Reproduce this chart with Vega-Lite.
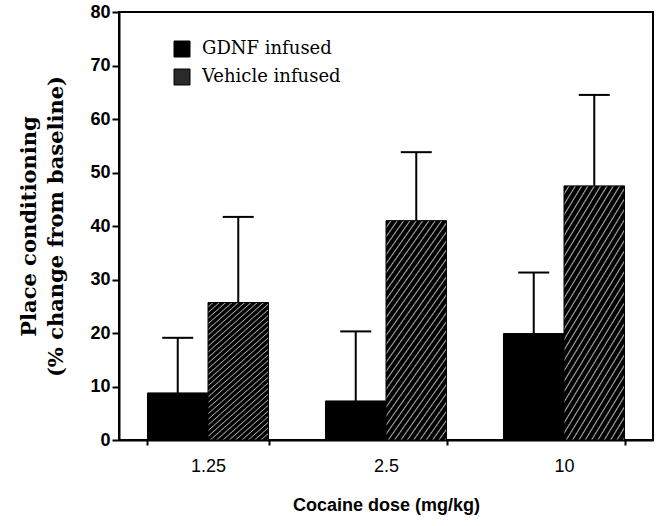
{
  "$schema": "https://vega.github.io/schema/vega-lite/v6.json",
  "width": 534,
  "height": 428,
  "autosize": {"type": "none"},
  "padding": {"left": 119, "top": 12, "right": 11, "bottom": 86},
  "background": "white",
  "data": {
    "values": [
      {"dose": "1.25", "group": "GDNF infused", "value": 8.8, "upper": 19.1},
      {"dose": "1.25", "group": "Vehicle infused", "value": 25.7, "upper": 41.7},
      {"dose": "2.5", "group": "GDNF infused", "value": 7.3, "upper": 20.3},
      {"dose": "2.5", "group": "Vehicle infused", "value": 41.0, "upper": 53.8},
      {"dose": "10", "group": "GDNF infused", "value": 19.9, "upper": 31.3},
      {"dose": "10", "group": "Vehicle infused", "value": 47.5, "upper": 64.5}
    ]
  },
  "encoding": {
    "x": {
      "field": "dose", "type": "ordinal", "sort": ["1.25", "2.5", "10"],
      "scale": {"paddingInner": 0.32, "paddingOuter": 0.16},
      "axis": {
        "title": "Cocaine dose (mg/kg)",
        "labelAngle": 0,
        "labelFont": "Liberation Sans", "labelFontSize": 18, "labelFontWeight": "normal",
        "labelPadding": 12,
        "titleFont": "Liberation Sans", "titleFontSize": 18, "titleFontWeight": "bold",
        "titlePadding": 21,
        "tickBand": "extent", "tickSize": 5, "tickWidth": 2, "tickColor": "black",
        "domainColor": "black", "domainWidth": 2, "labelColor": "black", "titleColor": "black"
      }
    },
    "xOffset": {"field": "group", "type": "nominal", "sort": ["GDNF infused", "Vehicle infused"], "scale": {"paddingInner": 0, "paddingOuter": 0}}
  },
  "layer": [
    {
      "mark": {"type": "bar", "stroke": "black", "strokeWidth": 1},
      "encoding": {
        "y": {
          "field": "value", "type": "quantitative",
          "scale": {"domain": [0, 80], "nice": false},
          "axis": {
            "title": ["Place conditioning", "(% change from baseline)"],
            "values": [0, 5, 10, 15, 20, 25, 30, 35, 40, 45, 50, 55, 60, 65, 70, 75, 80],
            "labelExpr": "datum.value % 10 === 0 ? datum.label : ''",
            "tickSize": {"condition": {"test": "datum.value % 10 === 0", "value": 7}, "value": 4},
            "tickWidth": 2, "tickColor": "black",
            "labelFont": "Liberation Sans", "labelFontSize": 18, "labelFontWeight": "bold",
            "labelPadding": 2, "labelColor": "black",
            "titleFont": "DejaVu Serif", "titleFontSize": 21, "titleFontWeight": "bold",
            "titleLineHeight": 27, "titlePadding": 23, "titleColor": "black",
            "domainColor": "black", "domainWidth": 2, "grid": false
          }
        },
        "fill": {
          "condition": {
            "test": "datum.group === 'Vehicle infused'",
            "value": {
              "gradient": "linear", "x1": 0, "y1": 0, "x2": 0.4717, "y2": 1.2065,
              "stops": [
                {"offset": 0, "color": "#000"}, {"offset": 0.0176, "color": "#000"}, {"offset": 0.0235, "color": "#aaa"},
                {"offset": 0.0294, "color": "#000"}, {"offset": 0.0471, "color": "#000"}, {"offset": 0.0529, "color": "#aaa"},
                {"offset": 0.0588, "color": "#000"}, {"offset": 0.0765, "color": "#000"}, {"offset": 0.0824, "color": "#aaa"},
                {"offset": 0.0882, "color": "#000"}, {"offset": 0.1059, "color": "#000"}, {"offset": 0.1118, "color": "#aaa"},
                {"offset": 0.1176, "color": "#000"}, {"offset": 0.1353, "color": "#000"}, {"offset": 0.1412, "color": "#aaa"},
                {"offset": 0.1471, "color": "#000"}, {"offset": 0.1647, "color": "#000"}, {"offset": 0.1706, "color": "#aaa"},
                {"offset": 0.1765, "color": "#000"}, {"offset": 0.1941, "color": "#000"}, {"offset": 0.2, "color": "#aaa"},
                {"offset": 0.2059, "color": "#000"}, {"offset": 0.2235, "color": "#000"}, {"offset": 0.2294, "color": "#aaa"},
                {"offset": 0.2353, "color": "#000"}, {"offset": 0.2529, "color": "#000"}, {"offset": 0.2588, "color": "#aaa"},
                {"offset": 0.2647, "color": "#000"}, {"offset": 0.2824, "color": "#000"}, {"offset": 0.2882, "color": "#aaa"},
                {"offset": 0.2941, "color": "#000"}, {"offset": 0.3118, "color": "#000"}, {"offset": 0.3176, "color": "#aaa"},
                {"offset": 0.3235, "color": "#000"}, {"offset": 0.3412, "color": "#000"}, {"offset": 0.3471, "color": "#aaa"},
                {"offset": 0.3529, "color": "#000"}, {"offset": 0.3706, "color": "#000"}, {"offset": 0.3765, "color": "#aaa"},
                {"offset": 0.3824, "color": "#000"}, {"offset": 0.4, "color": "#000"}, {"offset": 0.4059, "color": "#aaa"},
                {"offset": 0.4118, "color": "#000"}, {"offset": 0.4294, "color": "#000"}, {"offset": 0.4353, "color": "#aaa"},
                {"offset": 0.4412, "color": "#000"}, {"offset": 0.4588, "color": "#000"}, {"offset": 0.4647, "color": "#aaa"},
                {"offset": 0.4706, "color": "#000"}, {"offset": 0.4882, "color": "#000"}, {"offset": 0.4941, "color": "#aaa"},
                {"offset": 0.5, "color": "#000"}, {"offset": 0.5176, "color": "#000"}, {"offset": 0.5235, "color": "#aaa"},
                {"offset": 0.5294, "color": "#000"}, {"offset": 0.5471, "color": "#000"}, {"offset": 0.5529, "color": "#aaa"},
                {"offset": 0.5588, "color": "#000"}, {"offset": 0.5765, "color": "#000"}, {"offset": 0.5824, "color": "#aaa"},
                {"offset": 0.5882, "color": "#000"}, {"offset": 0.6059, "color": "#000"}, {"offset": 0.6118, "color": "#aaa"},
                {"offset": 0.6176, "color": "#000"}, {"offset": 0.6353, "color": "#000"}, {"offset": 0.6412, "color": "#aaa"},
                {"offset": 0.6471, "color": "#000"}, {"offset": 0.6647, "color": "#000"}, {"offset": 0.6706, "color": "#aaa"},
                {"offset": 0.6765, "color": "#000"}, {"offset": 0.6941, "color": "#000"}, {"offset": 0.7, "color": "#aaa"},
                {"offset": 0.7059, "color": "#000"}, {"offset": 0.7235, "color": "#000"}, {"offset": 0.7294, "color": "#aaa"},
                {"offset": 0.7353, "color": "#000"}, {"offset": 0.7529, "color": "#000"}, {"offset": 0.7588, "color": "#aaa"},
                {"offset": 0.7647, "color": "#000"}, {"offset": 0.7824, "color": "#000"}, {"offset": 0.7882, "color": "#aaa"},
                {"offset": 0.7941, "color": "#000"}, {"offset": 0.8118, "color": "#000"}, {"offset": 0.8176, "color": "#aaa"},
                {"offset": 0.8235, "color": "#000"}, {"offset": 0.8412, "color": "#000"}, {"offset": 0.8471, "color": "#aaa"},
                {"offset": 0.8529, "color": "#000"}, {"offset": 0.8706, "color": "#000"}, {"offset": 0.8765, "color": "#aaa"},
                {"offset": 0.8824, "color": "#000"}, {"offset": 0.9, "color": "#000"}, {"offset": 0.9059, "color": "#aaa"},
                {"offset": 0.9118, "color": "#000"}, {"offset": 0.9294, "color": "#000"}, {"offset": 0.9353, "color": "#aaa"},
                {"offset": 0.9412, "color": "#000"}, {"offset": 0.9588, "color": "#000"}, {"offset": 0.9647, "color": "#aaa"},
                {"offset": 0.9706, "color": "#000"}, {"offset": 0.9882, "color": "#000"}, {"offset": 0.9941, "color": "#aaa"},
                {"offset": 1, "color": "#000"}
              ]
            }
          },
          "field": "group", "type": "nominal", "sort": ["GDNF infused", "Vehicle infused"],
          "scale": {"range": ["#000000", "#2a2a2a"]},
          "legend": {
            "orient": "none", "legendX": 54, "legendY": 28, "title": null,
            "padding": 0, "symbolType": "square", "symbolSize": 256,
            "symbolStrokeColor": "black", "symbolStrokeWidth": 1,
            "labelFont": "DejaVu Serif", "labelFontSize": 18, "labelColor": "black",
            "labelOffset": 11, "rowPadding": 8
          }
        }
      }
    },
    {
      "mark": {"type": "rule", "color": "black", "strokeWidth": 2},
      "encoding": {
        "y": {"field": "value", "type": "quantitative"},
        "y2": {"field": "upper"}
      }
    },
    {
      "mark": {"type": "tick", "color": "black", "thickness": 2, "size": 31, "opacity": 1},
      "encoding": {
        "y": {"field": "upper", "type": "quantitative"}
      }
    }
  ],
  "config": {
    "view": {"stroke": "black", "strokeWidth": 2},
    "axis": {"grid": false}
  }
}
